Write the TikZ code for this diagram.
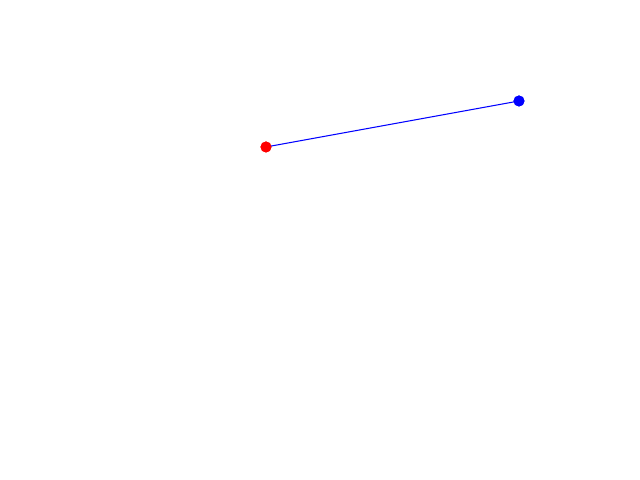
\documentclass[tikz,border=0pt]{standalone}
\usepackage{tikz}

\tikzset{
  dot/.style={circle, inner sep=0pt, minimum size=0.11cm},
}

\begin{document}
\begin{tikzpicture}
    \useasboundingbox (0,0) rectangle (6.4,4.8);
    \node[dot, fill=red] (P) at (2.66,3.33) {};
    \node[dot, fill=blue] (Q) at (5.19,3.79) {};
    \draw[blue, line width=0.3pt] (P.center) -- (Q.center);
    \node[dot, fill=red] at (P) {};
    \node[dot, fill=blue] at (Q) {};
\end{tikzpicture}
\end{document}
